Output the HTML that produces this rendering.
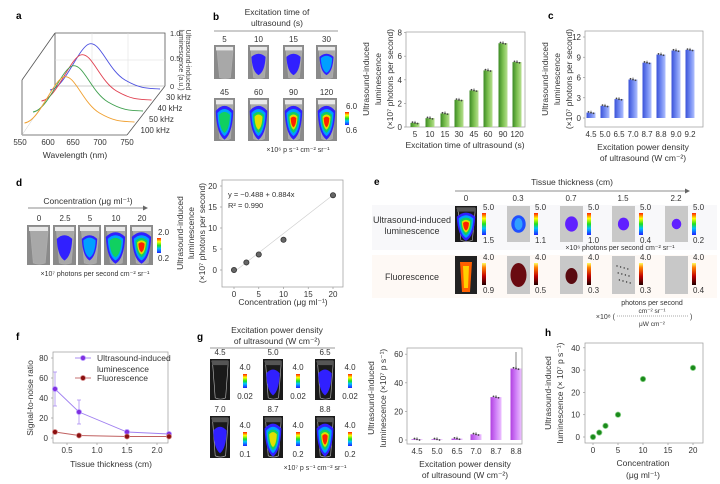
<!DOCTYPE html>
<html><head><meta charset="utf-8"><style>
html,body{margin:0;padding:0;background:#fff;}
svg{display:block;font-family:"Liberation Sans",Arial,sans-serif;}
</style></head><body>
<svg id="s" width="720" height="484" viewBox="0 0 720 484" xmlns="http://www.w3.org/2000/svg">
<defs>
<linearGradient id="cb" x1="0" y1="1" x2="0" y2="0"><stop offset="0" stop-color="#2020ff"/><stop offset=".3" stop-color="#00c0ff"/><stop offset=".5" stop-color="#20e020"/><stop offset=".75" stop-color="#ffff00"/><stop offset="1" stop-color="#ff2000"/></linearGradient>
<linearGradient id="cf" x1="0" y1="1" x2="0" y2="0"><stop offset="0" stop-color="#200000"/><stop offset=".4" stop-color="#c00000"/><stop offset=".8" stop-color="#ff8000"/><stop offset="1" stop-color="#ffff60"/></linearGradient>
<linearGradient id="gb" x1="0" x2="1"><stop offset="0" stop-color="#3c8a24"/><stop offset=".5" stop-color="#7cc050"/><stop offset="1" stop-color="#b8e090"/></linearGradient>
<linearGradient id="bb" x1="0" x2="1"><stop offset="0" stop-color="#3a52d8"/><stop offset=".5" stop-color="#7088f0"/><stop offset="1" stop-color="#b0c0ff"/></linearGradient>
<linearGradient id="pb" x1="0" x2="1"><stop offset="0" stop-color="#b040e0"/><stop offset=".5" stop-color="#d080f8"/><stop offset="1" stop-color="#ecc0ff"/></linearGradient>
</defs>
<g id="root" font-size="8.5" fill="#333"></g>
</svg>
<script>
var o='';
function T(x,y,t,a,s,w,c){o+='<text x="'+x+'" y="'+y+'" text-anchor="'+(a||'middle')+'" font-size="'+(s||8.5)+'"'+(w?' font-weight="bold"':'')+' fill="'+(c||'#333')+'">'+t+'</text>';}
function L(x1,y1,x2,y2,c,w,d){o+='<line x1="'+x1+'" y1="'+y1+'" x2="'+x2+'" y2="'+y2+'" stroke="'+(c||'#666')+'" stroke-width="'+(w||0.7)+'"'+(d?' stroke-dasharray="'+d+'"':'')+'/>';}
function R(x,y,w,h,f,s){o+='<rect x="'+x+'" y="'+y+'" width="'+w+'" height="'+h+'" fill="'+f+'"'+(s?' stroke="'+s+'" stroke-width="0.7"':'')+'/>';}
function E(cx,cy,rx,ry,f){o+='<ellipse cx="'+cx+'" cy="'+cy+'" rx="'+rx+'" ry="'+ry+'" fill="'+f+'"/>';}
function C(cx,cy,r,f,s){o+='<circle cx="'+cx+'" cy="'+cy+'" r="'+r+'" fill="'+f+'"'+(s?' stroke="'+s+'" stroke-width="0.8"':'')+'/>';}
function RT(x,y,t,s){o+='<text transform="translate('+x+','+y+') rotate(-90)" text-anchor="middle" font-size="'+(s||8.5)+'" fill="#333">'+t+'</text>';}
function P(d,c,w,f){o+='<path d="'+d+'" stroke="'+(c||'none')+'" stroke-width="'+(w||1)+'" fill="'+(f||'none')+'"/>';}
function blob(cx,cy,rx,ry,f){o+='<path d="M'+(cx-rx)+' '+(cy-ry*0.6)+'Q'+cx+' '+(cy-ry*1.15)+' '+(cx+rx)+' '+(cy-ry*0.6)+'Q'+(cx+rx*0.9)+' '+(cy+ry*0.7)+' '+cx+' '+(cy+ry)+'Q'+(cx-rx*0.9)+' '+(cy+ry*0.7)+' '+(cx-rx)+' '+(cy-ry*0.6)+'z" fill="'+f+'"/>';}
function tube(x,y,w,h,lv,dark){
 R(x,y,w,h,dark?'#1a1a1a':'#8a8a8a');
 P('M'+(x+2)+' '+(y+2)+'h'+(w-4)+'v'+(h*0.12)+'l'+(-w*0.12)+' '+(h*0.78)+'q'+(-w*0.26)+' '+(h*0.06)+' '+(-w*0.52)+' 0l'+(-w*0.12)+' '+(-h*0.78)+'z',dark?'#bbb':'#b0b0b0',0.6,dark?'none':'#a8a8a8');
 R(x+2,y+2,w-4,h*0.1,dark?'#555':'#e8e8e8');
 var cx=x+w/2,cy=y+h*0.55;
 var cols=['#3020ff','#00a0ff','#10d060','#e0e000','#ff2000'];
 var sc=[1,.8,.62,.45,.32];
 var k=lv>=3?1:0.8;
 for(var i=0;i<lv;i++){blob(cx,cy,w*0.42*sc[i]*k,h*0.42*sc[i]*k,cols[i]);}
}
function cbar(x,y,h,hi,lo,g){R(x,y,4,h,'url(#'+(g||'cb')+')');T(x+1,y-3,hi,'start',8);T(x+1,y+h+8,lo,'start',8);}

// ===== a =====
T(16,19,'a','start',10,1,'#000');
P('M55 33H165V86',"#555",0.8);L(55,33,55,86,'#555',0.8);L(55,33,22,80,'#555',0.8);L(22,80,22,135,'#555',0.8);
L(165,86,127,135,'#555',0.8);L(22,135,127,135,'#555',0.8);
L(55,60,165,60,'#ddd',0.5);L(92,33,92,86,'#ddd',0.5);L(128,33,128,86,'#ddd',0.5);L(55,86,165,86,'#999',0.5);L(55,86,22,135,'#ccc',0.5);
T(170,36,'1.0','start',7.5);T(170,61,'0.5','start',7.5);T(170,89,'0','start',7.5);
o+='<text transform="translate(186,60) rotate(90)" text-anchor="middle" font-size="7" fill="#444">Ultrasound-induced</text>';
o+='<text transform="translate(179,60) rotate(90)" text-anchor="middle" font-size="7" fill="#444">luminescence (a.u.)</text>';
var cs=[['#4b50e0',0,'30 kHz'],['#e04050',1,'40 kHz'],['#40a050',2,'50 kHz'],['#f0a030',3,'100 kHz']];
cs.forEach(function(c){var dx=-c[1]*8.5,dy=c[1]*11;
 P('M'+(50+dx)+' '+(90+dy)+'C'+(65+dx)+' '+(88+dy)+' '+(78+dx)+' '+(48+dy)+' '+(89+dx)+' '+(44+dy)+'C'+(100+dx)+' '+(40+dy)+' '+(108+dx)+' '+(70+dy)+' '+(125+dx)+' '+(80+dy)+'S'+(150+dx)+' '+(88+dy)+' '+(160+dx)+' '+(89+dy),c[0],0.9);
 T(158+dx+8,100+dy,c[2],'start',8);});
[['550',20],['600',48],['650',73],['700',100],['750',127]].forEach(function(t){T(t[1],145,t[0],'middle',8);});
T(75,158,'Wavelength (nm)','middle',8.5);

// ===== b images =====
T(213,20,'b','start',10,1,'#000');
T(277,15,'Excitation time of','middle',8.5);T(277,26,'ultrasound (s)','middle',8.5);L(214,31,338,31,'#777',0.8);
var bx=[214,248,283,316];var lt=['5','10','15','30'],lb=['45','60','90','120'];
var lvt=[0,1,1,2],lvb=[3,4,5,5];
for(var i=0;i<4;i++){T(bx[i]+10.5,42,lt[i],'middle',8);tube(bx[i],45,21,34,lvt[i]);T(bx[i]+10.5,95,lb[i],'middle',8);tube(bx[i],98,21,43,lvb[i]);}
cbar(345,112,13,'6.0','0.6');
T(298,152,'×10⁶ p s⁻¹ cm⁻² sr⁻¹','middle',7);

function bars(ax,ay,aw,ah,y0,ppu,ticks,xs,vals,labs,grad,bw){
 R(ax,ay,aw,ah,'none','#999');
 ticks.forEach(function(t){var yy=y0-t*ppu;L(ax-2,yy,ax,yy,'#999');T(ax-4,yy+3,t,'end',8);});
 for(var i=0;i<xs.length;i++){var h=vals[i]*ppu;R(xs[i]-bw/2,y0-h,bw,h,'url(#'+grad+')');
  L(xs[i],y0-h-2,xs[i],y0-h+1,'#333',0.6);for(var k=-1;k<=1;k++)C(xs[i]+k*2.5,y0-h+(k*0.7),0.9,'#444');
  T(xs[i],ay+ah+10,labs[i],'middle',8);}
}
bars(406,32,119,95,127,11.8,[0,2,4,6,8],[415,430,445,459,474,488,503,517],[.35,.75,1.15,2.3,3.1,4.8,7.1,5.5],['5','10','15','30','45','60','90','120'],'gb',9);
T(465,148,'Excitation time of ultrasound (s)','middle',8.5);
RT(369,79,'Ultrasound-induced');RT(381,79,'luminescence');RT(393,79,'(×10⁷ photons per second)');

// ===== c =====
T(548,19,'c','start',10,1,'#000');
bars(585,31,118,96,118,6.75,[0,3,6,9,12],[591,605,619,633,647,661,676,690],[.8,1.8,2.8,5.7,8.2,9.4,10,10.1],['4.5','5.0','6.5','7.0','8.7','8.8','9.0','9.2'],'bb',9);
T(643,150,'Excitation power density','middle',8.5);T(643,161,'of ultrasound (W cm⁻²)','middle',8.5);
RT(548,79,'Ultrasound-induced');RT(560,79,'luminescence');RT(572,79,'(×10⁷ photons per second)');

// ===== d =====
T(16,186,'d','start',10,1,'#000');
T(88,204,'Concentration (μg ml⁻¹)','middle',8.5);L(28,208,146,208,'#666',0.8);P('M148 208l-5 -2.5v5z',null,1,'#666');
var dx=[27,53,78,104,130],dl=['0','2.5','5','10','20'],dv=[0,1,2,3,5];
for(var i=0;i<5;i++){T(dx[i]+12,221,dl[i],'middle',8);tube(dx[i],225,23,40,dv[i]);}
cbar(157,238,15,'2.0','0.2');
T(95,276,'×10⁷ photons per second cm⁻² sr⁻¹','middle',7);
R(222,180,121,107,'none','#999');
[0,5,10,15,20].forEach(function(t){var yy=270-t*4.2;L(220,yy,222,yy,'#999');T(217,yy+3,t,'end',8);});
[0,5,10,15,20].forEach(function(t){var xx=234+t*4.95;L(xx,287,xx,289,'#999');T(xx,297,t,'middle',8);});
L(234,272,333,195,'#ccc',0.6);
[[0,0],[2.5,1.8],[5,3.7],[10,7.2],[20,17.8]].forEach(function(p){C(234+p[0]*4.95,270-p[1]*4.2,2.6,'#666','#333');});
T(228,197,'y = −0.488 + 0.884x','start',7.5);T(228,208,'R² = 0.990','start',7.5);
T(283,305,'Concentration (μg ml⁻¹)','middle',8.5);
RT(183,233,'Ultrasound-induced');RT(194,233,'luminescence');RT(205,233,'(×10⁷ photons per second)');

// ===== e =====
T(374,185,'e','start',10,1,'#000');
T(572,185,'Tissue thickness (cm)','middle',8.5);L(455,191,686,191,'#666',0.8);P('M690 191l-5 -2.5v5z',null,1,'#666');
R(372,205,345,45,'#f8f8fa');R(372,255,345,43,'#fef9f5');
T(412,223,'Ultrasound-induced','middle',9);T(412,234,'luminescence','middle',9);T(412,280,'Fluorescence','middle',9);
var ex=[455,507,560,612,665],el=['0','0.3','0.7','1.5','2.2'];
var ulo=['1.5','1.1','1.0','0.4','0.2'],flo=['0.9','0.5','0.3','0.3','0.4'];
for(var i=0;i<5;i++){var x=ex[i];T(x+11,201,el[i],'middle',8);
 if(i==0){tube(x,206,22,36,5,true);}else{R(x,206,23,36,'#c8c8c8');E(x+11.5,224,8-i*0.8,10-i*1.2,i==1?'#2050ff':'#6020ff');if(i==1)E(x+11.5,224,4,6,'#30a0ff');}
 cbar(x+27,213,22,'5.0',ulo[i]);
 if(i==0){R(x,256,22,38,'#222');P('M'+(x+5)+' 262h12l-2 30h-8z',null,1,'#ff6000');P('M'+(x+8)+' 266h6l-1 22h-4z',null,1,'#ffd000');}
 else{R(x,256,23,38,'#c8c8c8');if(i==1)E(x+11.5,275,8,12,'#6a0a10');if(i==2)E(x+11.5,276,6,8,'#5a0a10');if(i==3){for(var k=0;k<12;k++)C(x+5+k*1.2,266+(k*7%20),0.7,'#333');}}
 cbar(x+27,263,22,'4.0',flo[i],'cf');}
T(620,250,'×10⁶ photons per second cm⁻² sr⁻¹','middle',7);
T(652,305,'photons per second','middle',7);T(652,313,'cm⁻² sr⁻¹','middle',6.5);
T(615,319,'×10⁸ (','end',7);L(617,316,688,316,'#555',0.5,'1,1');T(690,319,')','start',7);T(652,326,'μW cm⁻²','middle',6.5);

// ===== f =====
T(16,340,'f','start',10,1,'#000');
R(53,352,115,91,'none','#999');
[0,20,40,60,80].forEach(function(t){var yy=438-t;L(51,yy,53,yy,'#999');T(48,yy+3,t,'end',8);});
[0.5,1.0,1.5,2.0].forEach(function(t){var xx=37+t*60;L(xx,443,xx,445,'#999');T(xx,453,t.toFixed(1),'middle',8);});
function fx(v){return 37+v*60;}function fy(v){return 438-v;}
var pu=[[0.3,49,17],[0.7,26,12],[1.5,6,2],[2.2,4,1]],rd=[[0.3,6],[0.7,2.5],[1.5,1.5],[2.2,1.5]];
P('M'+pu.map(function(p){return fx(p[0])+' '+fy(p[1]);}).join('L'),'#a080f0',0.9);
P('M'+rd.map(function(p){return fx(p[0])+' '+fy(p[1]);}).join('L'),'#c06060',0.9);
pu.forEach(function(p){L(fx(p[0]),fy(p[1]+p[2]),fx(p[0]),fy(p[1]-p[2]),'#a080f0',0.7);L(fx(p[0])-2,fy(p[1]+p[2]),fx(p[0])+2,fy(p[1]+p[2]),'#a080f0',0.7);L(fx(p[0])-2,fy(p[1]-p[2]),fx(p[0])+2,fy(p[1]-p[2]),'#a080f0',0.7);C(fx(p[0]),fy(p[1]),2.5,'#8030e0','#b090ff');});
rd.forEach(function(p){C(fx(p[0]),fy(p[1]),2.5,'#8a1010','#d08080');});
L(75,358,91,358,'#a080f0',0.9);C(83,358,2.5,'#8030e0','#b090ff');T(97,361,'Ultrasound-induced','start',8.5);T(97,372,'luminescence','start',8.5);
L(75,378,91,378,'#c06060',0.9);C(83,378,2.5,'#8a1010','#d08080');T(97,381,'Fluorescence','start',8.5);
T(111,467,'Tissue thickness (cm)','middle',8.5);RT(33,398,'Signal-to-noise ratio');

// ===== g =====
T(197,340,'g','start',10,1,'#000');
T(277,333,'Excitation power density','middle',8.5);T(277,344,'of ultrasound (W cm⁻²)','middle',8.5);L(210,348,335,348,'#777',0.8);
var gx=[210,263,315],gl1=['4.5','5.0','6.5'],gl2=['7.0','8.7','8.8'],glo1=['0.02','0.02','0.02'],glo2=['0.1','0.2','0.2'];
var gv1=[0,1,1],gv2=[1,4,5];
for(var i=0;i<3;i++){T(gx[i]+10,355,gl1[i],'middle',8);tube(gx[i],359,20,41,gv1[i],true);T(gx[i]+10,412,gl2[i],'middle',8);tube(gx[i],416,20,42,gv2[i],true);
 T(gx[i]+35,370,'4.0','middle',8);R(gx[i]+33,374,4,14,'url(#cb)');T(gx[i]+35,399,glo1[i],'middle',8);
 T(gx[i]+35,428,'4.0','middle',8);R(gx[i]+33,432,4,14,'url(#cb)');T(gx[i]+35,457,glo2[i],'middle',8);}
T(315,470,'×10⁷ p s⁻¹ cm⁻² sr⁻¹','middle',7);

bars(407,348,115,96,440,1.43,[0,20,40,60],[417,437,457,476,496,516],[.5,.5,1,4,30,50],['4.5','5.0','6.5','7.0','8.7','8.8'],'pb',11);
L(516,368,516,352,'#333',0.6);
T(465,467,'Excitation power density','middle',8.5);T(465,478,'of ultrasound  (W cm⁻²)','middle',8.5);
RT(374,398,'Ultrasound-induced');RT(386,398,'luminescence (×10⁷ p s⁻¹)');

// ===== h =====
T(545,336,'h','start',10,1,'#000');
R(585,343,118,100,'none','#999');
[0,10,20,30,40].forEach(function(t){var yy=437-t*2.23;L(583,yy,585,yy,'#999');T(580,yy+3,t,'end',8);});
[0,5,10,15,20].forEach(function(t){var xx=593+t*5;L(xx,443,xx,445,'#999');T(xx,453,t,'middle',8);});
[[0,0],[1.25,2],[2.5,5],[5,10],[10,26],[20,31]].forEach(function(p){C(593+p[0]*5,437-p[1]*2.23,2.7,'#1a8a1a','#8ad08a');});
T(643,466,'Concentration','middle',8.5);T(643,478,'(μg ml⁻¹)','middle',8.5);
RT(551,393,'Ultrasound-induced');RT(563,393,'luminescence (× 10⁷ p s⁻¹)');

document.getElementById('root').innerHTML=o;
</script>
</body></html>
